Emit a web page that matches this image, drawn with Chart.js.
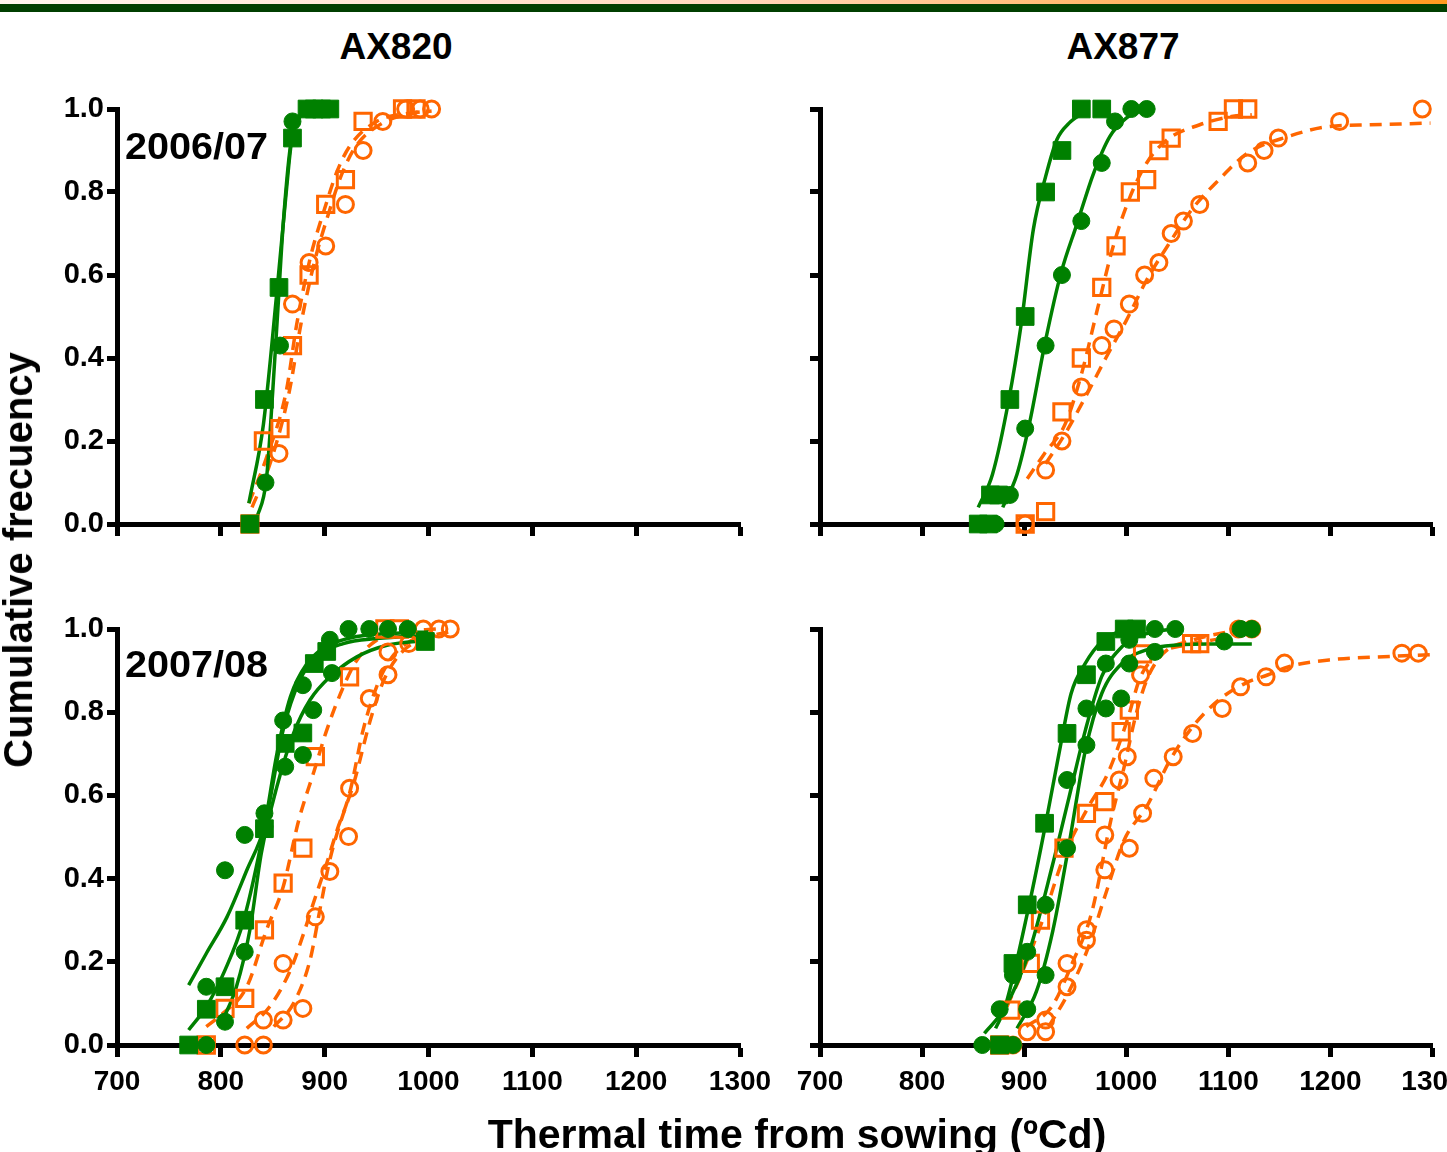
<!DOCTYPE html>
<html>
<head>
<meta charset="utf-8">
<script src="https://cdn.jsdelivr.net/npm/chart.js@4"></script>
<style>
  body { margin: 0; width: 1447px; height: 1152px; overflow: hidden; background: #fff; position: relative;
         font-family: "Liberation Sans", Arial, sans-serif; }
  canvas { position: absolute; }
  .txt { position: absolute; white-space: nowrap; color: #000; font-weight: bold; }
  #band1 { position: absolute; left: 0; top: 0; width: 1447px; height: 4px;
           background: linear-gradient(to right, #fff6ee, #ffd9bd 50%, #ff9a1e); }
  #band2 { position: absolute; left: 0; top: 4px; width: 1447px; height: 8px; background: #003f00; }
</style>
</head>
<body>
<div id="band1"></div><div id="band2"></div>

<canvas id="tl" width="760" height="490" style="left:30px;top:70px"></canvas>
<canvas id="tr" width="667" height="490" style="left:780px;top:70px"></canvas>
<canvas id="bl" width="760" height="530" style="left:30px;top:590px"></canvas>
<canvas id="br" width="667" height="530" style="left:780px;top:590px"></canvas>

<div class="txt" style="left:396px;top:28px;font-size:37px;line-height:37px;transform:translateX(-50%)">AX820</div>
<div class="txt" style="left:1123px;top:28px;font-size:37px;line-height:37px;transform:translateX(-50%)">AX877</div>
<div class="txt" style="left:125px;top:128px;font-size:37px;line-height:37px;transform:scaleX(1.07);transform-origin:left">2006/07</div>
<div class="txt" style="left:125px;top:646px;font-size:37px;line-height:37px;transform:scaleX(1.07);transform-origin:left">2007/08</div>
<div class="txt" style="left:18px;top:560px;font-size:40px;line-height:40px;transform:translate(-50%,-50%) rotate(-90deg)">Cumulative frecuency</div>
<div class="txt" style="left:797px;top:1114px;font-size:41px;line-height:41px;transform:translateX(-50%)">Thermal time from sowing (ºCd)</div>

<script>
// x ticks (ºCd) and y ticks (cumulative frequency)
const xTicks = [700, 800, 900, 1000, 1100, 1200, 1300];
const yTicks = [0, 0.2, 0.4, 0.6, 0.8, 1.0];

// 2006/07 - AX820
const tlGreenSq = [[828,0],[842,0.30],[856,0.57],[869,0.93],[883,1],[890,1],[897,1],[905,1]];
const tlGreenCi = [[828,0],[843,0.10],[857,0.43],[869,0.97]];
const tlOrangeSq = [[828,0],[841,0.20],[857,0.23],[869,0.43],[885,0.60],[901,0.77],[920,0.83],[937,0.97],[975,1],[988,1]];
const tlOrangeCi = [[856,0.17],[869,0.53],[885,0.63],[901,0.67],[920,0.77],[937,0.90],[956,0.97],[978,1],[992,1],[1003,1]];
const tlGreenSqFit = [[827,0.05],[841,0.24],[854,0.56],[863,0.80],[868,0.92],[876,0.98],[885,1.0]];
const tlGreenCiFit = [[834,0.01],[844,0.11],[850,0.32],[855,0.52],[860,0.72],[867,0.91],[873,0.97],[880,0.995]];
const tlOrangeSqFit = [[827,0.05],[844,0.16],[863,0.32],[873,0.48],[886,0.64],[900,0.76],[912,0.85],[924,0.91],[950,0.97],[982,0.99],[1000,0.995]];
const tlOrangeCiFit = [[830,0.04],[848,0.15],[866,0.32],[877,0.48],[890,0.63],[904,0.75],[916,0.84],[930,0.91],[955,0.965],[985,0.99],[1003,0.995]];

// 2006/07 - AX877
const trGreenSq = [[855,0],[865,0],[867,0.07],[875,0.07],[886,0.30],[901,0.50],[921,0.80],[937,0.90],[956,1],[976,1]];
const trGreenCi = [[872,0],[886,0.07],[901,0.23],[921,0.43],[937,0.60],[956,0.73],[976,0.87],[989,0.97],[1005,1],[1020,1]];
const trOrangeSq = [[901,0],[921,0.03],[937,0.27],[956,0.40],[976,0.57],[990,0.67],[1004,0.80],[1020,0.83],[1032,0.90],[1044,0.93],[1090,0.97],[1105,1],[1119,1]];
const trOrangeCi = [[901,0],[921,0.13],[937,0.20],[956,0.33],[976,0.43],[988,0.47],[1003,0.53],[1018,0.60],[1032,0.63],[1044,0.70],[1056,0.73],[1072,0.77],[1119,0.87],[1135,0.90],[1149,0.93],[1209,0.97],[1290,1]];
const trGreenSqFit = [[855,0.04],[869,0.12],[885,0.30],[897,0.48],[909,0.71],[921,0.837],[932,0.926],[944,0.966],[960,0.994]];
const trGreenCiFit = [[879,0.04],[893,0.12],[905,0.24],[921,0.443],[936,0.604],[952,0.725],[968,0.845],[984,0.934],[1000,0.978],[1016,0.998]];
const trOrangeSqFit = [[903,0.109],[920,0.17],[940,0.24],[956,0.36],[972,0.52],[988,0.676],[1004,0.79],[1020,0.87],[1040,0.926],[1072,0.962],[1103,0.982],[1123,0.986]];
const trOrangeCiFit = [[921,0.145],[940,0.217],[960,0.306],[980,0.40],[1000,0.49],[1020,0.588],[1040,0.668],[1064,0.757],[1091,0.83],[1119,0.894],[1159,0.934],[1199,0.958],[1239,0.962],[1298,0.966]];

// 2007/08 - AX820
const blGreenSq = [[769,0],[786,0.086],[804,0.14],[823,0.30],[842,0.52],[862,0.725],[879,0.75],[890,0.917],[902,0.946],[997,0.97]];
const blGreenCiA = [[786,0.14],[804,0.42],[823,0.505],[842,0.557],[860,0.78],[879,0.865],[905,0.974],[923,1],[943,1]];
const blGreenCiB = [[786,0],[804,0.056],[823,0.224],[842,0.525],[862,0.669],[879,0.697],[889,0.805],[907,0.894],[961,1],[980,1]];
const blOrangeSq = [[786,0],[804,0.088],[823,0.112],[842,0.277],[860,0.389],[879,0.473],[891,0.693],[924,0.885],[958,1],[972,1]];
const blOrangeCiA = [[823,0],[841,0.06],[860,0.196],[891,0.308],[905,0.417],[924,0.617],[943,0.833],[961,0.945],[995,1]];
const blOrangeCiB = [[841,0],[860,0.06],[879,0.088],[923,0.501],[961,0.89],[981,0.965],[1010,1],[1021,1]];
const blGreenCiAFit = [[769,0.144],[786,0.22],[806,0.308],[825,0.42],[842,0.525],[847,0.585],[860,0.757],[876,0.877],[892,0.933],[918,0.965],[950,0.977],[1000,0.985]];
const blGreenSqFit = [[769,0.036],[786,0.092],[804,0.18],[822,0.30],[842,0.525],[854,0.70],[867,0.837],[883,0.917],[902,0.958],[931,0.982],[969,0.99],[1000,0.993]];
const blGreenCiBFit = [[802,0.06],[815,0.14],[828,0.277],[839,0.461],[854,0.621],[870,0.749],[886,0.83],[905,0.885],[931,0.933],[960,0.961],[1001,0.973]];
const blOrangeSqFit = [[786,0.044],[802,0.076],[825,0.14],[844,0.277],[860,0.38],[875,0.54],[890,0.66],[902,0.757],[918,0.861],[931,0.925],[950,0.973],[976,0.993],[1008,1.0]];
const blOrangeCiAFit = [[825,0.04],[847,0.092],[867,0.18],[880,0.27],[889,0.34],[902,0.437],[912,0.517],[924,0.605],[937,0.757],[950,0.861],[963,0.926],[982,0.97],[1008,0.994]];
const blOrangeCiBFit = [[851,0.044],[870,0.10],[886,0.205],[896,0.333],[905,0.445],[916,0.541],[928,0.629],[944,0.781],[957,0.877],[973,0.941],[995,0.977],[1021,0.994]];

// 2007/08 - AX877
const brGreenSq = [[876,0],[889,0.196],[903,0.337],[920,0.533],[942,0.749],[961,0.89],[980,0.97],[998,1],[1010,1]];
const brGreenCiA = [[859,0],[876,0.086],[889,0.168],[903,0.224],[921,0.337],[942,0.637],[961,0.809],[980,0.917],[1003,0.974],[1028,1],[1048,1]];
const brGreenCiB = [[889,0],[903,0.086],[921,0.168],[942,0.473],[961,0.721],[980,0.809],[995,0.833],[1003,0.917],[1028,0.945],[1096,0.97],[1112,1],[1123,1]];
const brOrangeSq = [[876,0],[887,0.084],[906,0.196],[916,0.30],[939,0.473],[961,0.557],[979,0.585],[995,0.753],[1003,0.805],[1016,0.94],[1064,0.965],[1072,0.965]];
const brOrangeCiA = [[889,0],[903,0.032],[921,0.06],[942,0.196],[961,0.277],[979,0.505],[993,0.637],[1001,0.693],[1014,0.89],[1110,1],[1123,1]];
const brOrangeCiB = [[921,0.032],[942,0.14],[961,0.252],[979,0.421],[1003,0.473],[1016,0.557],[1027,0.641],[1046,0.693],[1065,0.749],[1094,0.809],[1112,0.861],[1137,0.885],[1155,0.918],[1270,0.942],[1286,0.942]];
const brGreenSqFit = [[872,0.04],[881,0.089],[905,0.338],[921,0.531],[936,0.725],[946,0.845],[960,0.918],[976,0.97],[996,0.998]];
const brGreenCiAFit = [[861,0.028],[881,0.089],[905,0.225],[928,0.435],[944,0.596],[960,0.757],[976,0.886],[996,0.958],[1016,0.986],[1040,0.998]];
const brGreenCiBFit = [[893,0.04],[912,0.129],[928,0.274],[944,0.483],[960,0.709],[976,0.845],[996,0.918],[1020,0.95],[1052,0.962],[1080,0.964],[1123,0.964]];
const brOrangeSqFit = [[883,0.092],[899,0.18],[918,0.30],[940,0.46],[963,0.573],[982,0.653],[1001,0.781],[1014,0.885],[1033,0.941],[1059,0.962],[1088,0.975]];
const brOrangeCiAFit = [[902,0.044],[927,0.092],[947,0.196],[966,0.317],[985,0.541],[998,0.669],[1009,0.789],[1020,0.877],[1036,0.941],[1065,0.973],[1107,0.997]];
const brOrangeCiBFit = [[924,0.044],[943,0.124],[963,0.236],[979,0.357],[998,0.493],[1020,0.573],[1043,0.685],[1065,0.765],[1091,0.83],[1117,0.87],[1139,0.89],[1160,0.91],[1200,0.926],[1258,0.934],[1298,0.938]];

const GREEN = "#008000";
const ORANGE = "#ff6600";
const FONT = "'Liberation Sans', Arial, sans-serif";

const pts = arr => arr.map(([x, y]) => ({ x, y }));

// marker series
function marks(arr, kind) {
  const green = kind[0] === "g";
  const square = kind[1] === "s";
  return {
    data: pts(arr), showLine: false, clip: false,
    pointStyle: square ? "rect" : "circle",
    pointRadius: green ? (square ? 12.5 : 8.5) : (square ? 11.5 : 8),
    borderWidth: green ? 1 : 3,
    borderColor: green ? GREEN : ORANGE,
    backgroundColor: green ? GREEN : "rgba(0,0,0,0)",
    order: green ? 1 : 2,
  };
}

// fitted curve
function fit(arr, green) {
  return {
    data: pts(arr), showLine: true, clip: false,
    pointRadius: 0, borderWidth: green ? 3.5 : 3.5,
    borderColor: green ? GREEN : ORANGE,
    borderDash: green ? [] : [12, 8],
    cubicInterpolationMode: "monotone",
    order: 3,
  };
}

function panel(id, datasets, o) {
  const fixX = s => { s.height = o.xh; s.paddingLeft = 0; s.paddingRight = 0; };
  const fixY = s => { s.width = o.yw; s.paddingTop = 0; s.paddingBottom = 0; };
  new Chart(document.getElementById(id), {
    type: "scatter",
    data: { datasets },
    options: {
      responsive: false, animation: false, devicePixelRatio: 1,
      layout: { padding: { top: o.top, right: o.right, left: 0, bottom: 0 } },
      plugins: { legend: { display: false }, tooltip: { enabled: false } },
      scales: {
        x: {
          type: "linear", min: xTicks[0], max: xTicks[xTicks.length - 1],
          afterBuildTicks: s => { s.ticks = xTicks.map(v => ({ value: v })); },
          afterFit: fixX,
          border: { display: true, width: 5, color: "#000" },
          grid: { drawOnChartArea: false, drawTicks: true, tickLength: 12, tickWidth: 5, tickColor: "#000" },
          ticks: {
            color: "#000", padding: 8, maxRotation: 0, autoSkip: false,
            font: { family: FONT, weight: "bold", size: 28 },
            callback: v => o.xLabels ? String(v) : "",
          },
        },
        y: {
          type: "linear", min: 0, max: 1,
          afterBuildTicks: s => { s.ticks = yTicks.map(v => ({ value: v })); },
          afterFit: fixY,
          border: { display: true, width: 5, color: "#000" },
          grid: { drawOnChartArea: false, drawTicks: true, tickLength: 10, tickWidth: 5, tickColor: "#000" },
          ticks: {
            color: "#000", padding: 3, autoSkip: false,
            font: { family: FONT, weight: "bold", size: 29 },
            callback: v => o.yLabels ? v.toFixed(1) : "",
          },
        },
      },
    },
  });
}

const left = { yw: 87, right: 50, top: 39, yLabels: true };
const right = { yw: 40, right: 4, top: 39, yLabels: false };

panel("tl", [
  fit(tlGreenSqFit, true), fit(tlGreenCiFit, true), fit(tlOrangeSqFit, false), fit(tlOrangeCiFit, false),
  marks(tlOrangeSq, "os"), marks(tlOrangeCi, "oc"), marks(tlGreenSq, "gs"), marks(tlGreenCi, "gc"),
], { ...left, xh: 36, xLabels: false });

panel("tr", [
  fit(trGreenSqFit, true), fit(trGreenCiFit, true), fit(trOrangeSqFit, false), fit(trOrangeCiFit, false),
  marks(trOrangeSq, "os"), marks(trOrangeCi, "oc"), marks(trGreenSq, "gs"), marks(trGreenCi, "gc"),
], { ...right, xh: 36, xLabels: false });

panel("bl", [
  fit(blGreenCiAFit, true), fit(blGreenSqFit, true), fit(blGreenCiBFit, true),
  fit(blOrangeSqFit, false), fit(blOrangeCiAFit, false), fit(blOrangeCiBFit, false),
  marks(blOrangeSq, "os"), marks(blOrangeCiA, "oc"), marks(blOrangeCiB, "oc"),
  marks(blGreenSq, "gs"), marks(blGreenCiA, "gc"), marks(blGreenCiB, "gc"),
], { ...left, xh: 75, xLabels: true });

panel("br", [
  fit(brGreenSqFit, true), fit(brGreenCiAFit, true), fit(brGreenCiBFit, true),
  fit(brOrangeSqFit, false), fit(brOrangeCiAFit, false), fit(brOrangeCiBFit, false),
  marks(brOrangeSq, "os"), marks(brOrangeCiA, "oc"), marks(brOrangeCiB, "oc"),
  marks(brGreenSq, "gs"), marks(brGreenCiA, "gc"), marks(brGreenCiB, "gc"),
], { ...right, xh: 75, xLabels: true });
</script>
</body>
</html>
